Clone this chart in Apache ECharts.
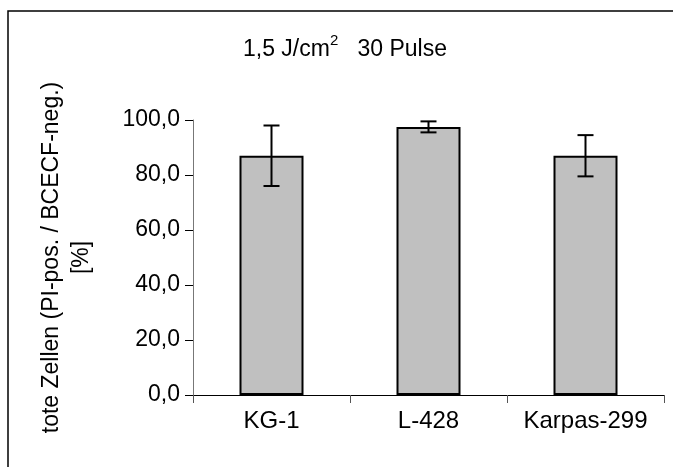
<!DOCTYPE html>
<html><head><meta charset="utf-8">
<script src="https://cdn.jsdelivr.net/npm/echarts@6/dist/echarts.min.js"></script>
<style>html,body{margin:0;padding:0;background:#fff}#c{width:673px;height:467px}</style>
</head><body><div id="c"></div>
<script>
const categories = ['KG-1', 'L-428', 'Karpas-299'];
const values = [87.0, 97.5, 87.0];
const errors = [11.0, 2.0, 7.5];
const yTicks = [0, 20, 40, 60, 80, 100];

const chart = echarts.init(document.getElementById('c'));
const F = 'Liberation Sans, Arial, sans-serif';
chart.setOption({
  animation: false,
  graphic: [{
    type: 'rect', shape: {x: 8, y: 11, width: 700, height: 500},
    style: {fill: 'none', stroke: '#000', lineWidth: 1.5}, z: -1
  }],
  title: {
    text: '{a|1,5 J/cm}{s|2}{a|   30 Pulse}',
    left: 238, top: 28,
    textStyle: {
      fontWeight: 'normal',
      rich: {
        a: {fontFamily: F, fontSize: 23, fontWeight: 'normal', color: '#000', verticalAlign: 'bottom', lineHeight: 28},
        s: {fontFamily: F, fontSize: 15, fontWeight: 'normal', color: '#000', verticalAlign: 'top', lineHeight: 28, padding: [0,0,10,0]}
      }
    }
  },
  grid: {left: 193, top: 120, width: 471, height: 275, containLabel: false},
  xAxis: {
    type: 'category', data: categories,
    axisLine: {lineStyle: {color: '#000', width: 1}},
    axisTick: {show: true, length: 8, alignWithLabel: false, lineStyle: {color: '#555'}},
    axisLabel: {fontFamily: F, fontSize: 24, color: '#000', margin: 14, interval: 0, hideOverlap: false}
  },
  yAxis: {
    type: 'value', min: 0, max: 100, interval: 20,
    name: 'tote Zellen (PI-pos. / BCECF-neg.)\n[%]',
    nameLocation: 'middle', nameGap: 96,
    nameTextStyle: {fontFamily: F, fontSize: 23, color: '#000', lineHeight: 30, align: 'center'},
    axisLine: {show: true, lineStyle: {color: '#777', width: 1}},
    axisTick: {show: true, length: 8, lineStyle: {color: '#000'}},
    splitLine: {show: false},
    axisLabel: {fontFamily: F, fontSize: 23, color: '#000', margin: 13,
      formatter: v => yTicks.includes(v) ? v.toFixed(1).replace('.', ',') : ''}
  },
  series: [{
    type: 'bar', data: values, barWidth: 64,
    itemStyle: {color: '#c0c0c0', borderColor: '#000', borderWidth: 2}
  }, {
    type: 'custom',
    data: values.map((v, i) => [i, v - errors[i], v + errors[i]]),
    renderItem: (params, api) => {
      const lo = api.coord([api.value(0), api.value(1)]);
      const hi = api.coord([api.value(0), api.value(2)]);
      const w = 8;
      const st = {stroke: '#000', lineWidth: 2};
      return {type: 'group', children: [
        {type: 'line', shape: {x1: lo[0], y1: lo[1], x2: hi[0], y2: hi[1]}, style: st},
        {type: 'line', shape: {x1: lo[0]-w, y1: lo[1], x2: lo[0]+w, y2: lo[1]}, style: st},
        {type: 'line', shape: {x1: hi[0]-w, y1: hi[1], x2: hi[0]+w, y2: hi[1]}, style: st}
      ]};
    },
    z: 5
  }]
});
</script></body></html>
